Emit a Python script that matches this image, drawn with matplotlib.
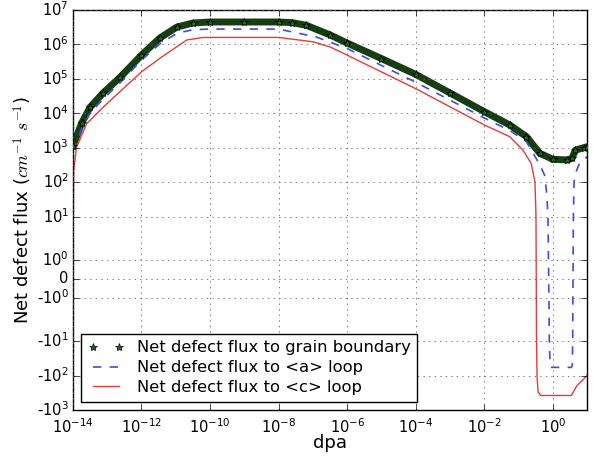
import numpy as np
import matplotlib
matplotlib.use('Agg')
import matplotlib.pyplot as plt
from matplotlib.ticker import NullLocator, FuncFormatter

# --- data (dpa, flux in cm^-1 s^-1) ---
gb_dpa = [1e-14, 10**-13.75, 10**-13.5, 10**-13.12, 10**-12.63, 1e-12, 10**-11.46,
          10**-10.97, 10**-10.5, 1e-10, 1e-9, 1e-8, 10**-7.6, 10**-7.19, 10**-6.5,
          1e-6, 10**-5, 1e-4, 10**-3, 1e-2, 10**-1.26, 10**-0.77, 10**-0.38, 1.0,
          10**0.42, 10**0.56, 10**0.66, 10**0.9, 10**1.0]
gb_flux = [1.1e3, 5.1e3, 1.5e4, 3.9e4, 1.1e5, 4.9e5, 1.55e6,
           3.2e6, 4.2e6, 4.5e6, 4.5e6, 4.5e6, 4.3e6, 3.6e6, 1.9e6,
           1.1e6, 3.9e5, 1.35e5, 3.9e4, 1.12e4, 4.6e3, 2.1e3, 690, 460,
           440, 490, 850, 1000, 1070]

a_dpa = [1e-14, 10**-13.75, 10**-13.5, 10**-13.12, 10**-12.63, 1e-12, 10**-11.46,
         10**-10.97, 10**-10.5, 1e-10, 1e-8, 10**-6.9, 1e-6, 1e-4, 1e-2,
         10**-1.26, 10**-0.77, 10**-0.38, 10**-0.24, 10**-0.18, 10**-0.14,
         10**-0.10, 10**-0.08, 10**-0.06, 10**0.54, 10**0.57, 10**0.58,
         10**0.60, 10**0.62, 10**0.66, 10**0.78, 10**1.0]
a_flux = [800, 3.5e3, 1.0e4, 2.6e4, 7.6e4, 3.5e5, 1.05e6,
          2.1e6, 2.7e6, 2.8e6, 2.8e6, 1.65e6, 7.6e5, 8.0e4, 7.3e3,
          3.2e3, 1.5e3, 320, 160, 50, 10,
          -10, -45, -58, -58, -50, -10,
          10, 100, 180, 350, 550]

c_dpa = [1e-14, 10**-13.98, 10**-13.9, 10**-13.6, 10**-13.12, 1e-12, 10**-11.46,
         10**-10.68, 10**-10.2, 1e-8, 1e-7, 10**-6.5, 1e-6, 1e-4, 1e-2,
         10**-1.26, 10**-0.87, 10**-0.63, 10**-0.52, 10**-0.49, 10**-0.475,
         10**-0.46, 10**-0.43, 10**-0.35, 10**0.54, 10**0.7, 10**1.0]
c_flux = [0, 200, 1.0e3, 5.0e3, 1.5e4, 1.6e5, 4.0e5,
          1.35e6, 1.6e6, 1.6e6, 1.2e6, 8.5e5, 4.9e5, 5.2e4, 4.6e3,
          2.1e3, 850, 350, 100, 10, -10,
          -100, -300, -380, -380, -200, -100]

labels = ['Net defect flux to grain boundary',
          'Net defect flux to <a> loop',
          'Net defect flux to <c> loop']

x_ticks = [1e-14, 1e-12, 1e-10, 1e-8, 1e-6, 1e-4, 1e-2, 1e0]
y_ticks = [-1e3, -1e2, -1e1, -1, 0, 1, 1e1, 1e2, 1e3, 1e4, 1e5, 1e6, 1e7]


def sym_label(v, pos):
    # hyphen for the negative decades, like the old matplotlib output
    if v == 0:
        return '0'
    e = int(round(np.log10(abs(v))))
    sign = '-' if v < 0 else ''
    return sign + r'$\mathdefault{10^{%d}}$' % e


# --- plot ---
plt.style.use('classic')
plt.rcParams['font.family'] = ['DejaVu Sans']
plt.rcParams['mathtext.fontset'] = 'cm'

fig = plt.figure(figsize=(5.93, 4.57), dpi=100)
fig.patch.set_facecolor('white')
ax = fig.add_axes([0.123, 0.103, 0.867, 0.875])

# thick band under the stars, the original markers overlap into one
ax.plot(gb_dpa, gb_flux, '-', color='#173d12', lw=5, solid_capstyle='round', zorder=2)
ax.plot(gb_dpa, gb_flux, '*', color='#1e6b1e', mec='black', mew=0.5, ms=6,
        label=labels[0], zorder=3)
ax.plot(a_dpa, a_flux, '--', color='#3a4ee0', lw=1.2, label=labels[1], zorder=2)
ax.plot(c_dpa, c_flux, '-', color='#e83a3a', lw=1.0, label=labels[2], zorder=2)

ax.set_xscale('log')
ax.set_yscale('symlog', linthresh=2, linscale=1)
ax.set_xlim(1e-14, 1e1)
ax.set_ylim(-1e3, 1e7)
ax.set_xticks(x_ticks)
ax.set_yticks(y_ticks)
ax.yaxis.set_major_formatter(FuncFormatter(sym_label))
ax.xaxis.set_minor_locator(NullLocator())
ax.yaxis.set_minor_locator(NullLocator())
ax.tick_params(labelsize=10.5, pad=3)
ax.tick_params(axis='x', pad=5)

ax.grid(True, linestyle=':', color='0.4', linewidth=0.6)
ax.set_xlabel('dpa', fontsize=13, labelpad=-1)
ax.set_ylabel(r'Net defect flux ($cm^{-1}\ s^{-1}$)', fontsize=13, labelpad=2)

ax.legend(loc='lower left', fontsize=11.8, numpoints=2, handlelength=2.2,
          borderpad=0.4, labelspacing=0.3, frameon=True)

fig.savefig('out.png', dpi=100, facecolor='white')
